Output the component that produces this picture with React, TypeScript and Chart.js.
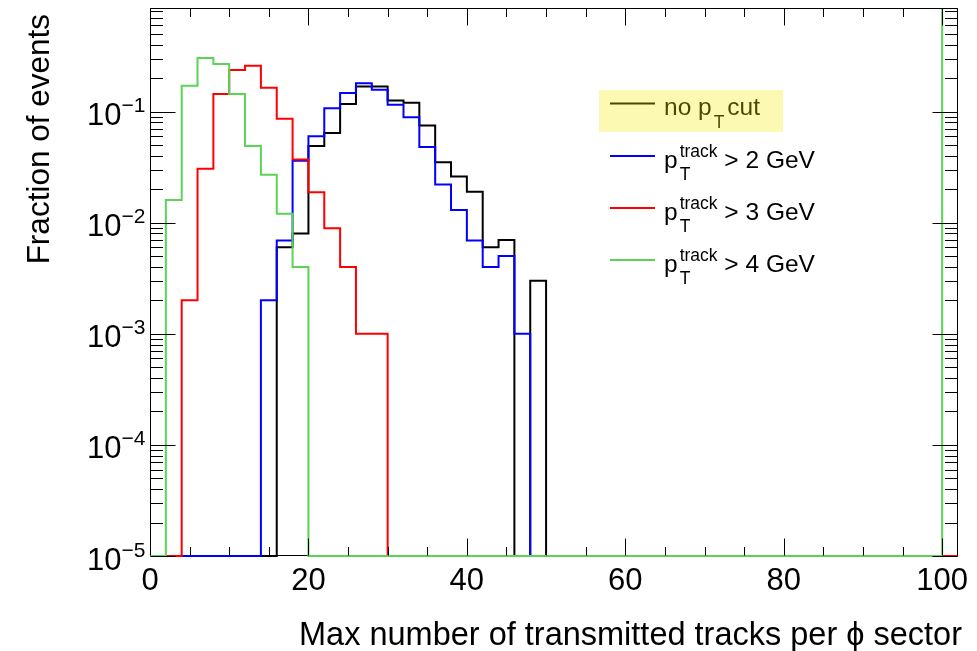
import React, { useEffect, useRef } from "react";
import { Chart, registerables } from "chart.js";

Chart.register(...registerables);

// ---- data -------------------------------------------------------------
// lower bin edges (bin width 2, last bin 100-102)
const binLowEdges = [
  0, 2, 4, 6, 8, 10, 12, 14, 16, 18,
  20, 22, 24, 26, 28, 30, 32, 34, 36, 38,
  40, 42, 44, 46, 48, 50, 52, 54, 56, 58,
  60, 62, 64, 66, 68, 70, 72, 74, 76, 78,
  80, 82, 84, 86, 88, 90, 92, 94, 96, 98,
  100,
];
const lastBinHighEdge = 102;

const noPtCut = [
  0, 0, 0, 0, 0, 0, 0, 0, 0.006, 0.008,
  0.049, 0.064, 0.117, 0.168, 0.168, 0.126, 0.12, 0.075, 0.035, 0.026,
  0.019, 0.006, 0.007, 0, 0.003, 0, 0, 0, 0, 0,
  0, 0, 0, 0, 0, 0, 0, 0, 0, 0,
  0, 0, 0, 0, 0, 0, 0, 0, 0, 0,
  0,
];
const pt2GeV = [
  0, 0, 0, 0, 0, 0, 0, 0.002, 0.0069, 0.036,
  0.06, 0.107, 0.147, 0.18, 0.157, 0.115, 0.089, 0.048, 0.022, 0.013,
  0.0069, 0.004, 0.005, 0.001, 0, 0, 0, 0, 0, 0,
  0, 0, 0, 0, 0, 0, 0, 0, 0, 0,
  0, 0, 0, 0, 0, 0, 0, 0, 0, 0,
  0,
];
const pt3GeV = [
  0, 0, 0.002, 0.0305, 0.144, 0.237, 0.259, 0.164, 0.086, 0.037,
  0.0188, 0.0089, 0.004, 0.001, 0.001, 0, 0, 0, 0, 0,
  0, 0, 0, 0, 0, 0, 0, 0, 0, 0,
  0, 0, 0, 0, 0, 0, 0, 0, 0, 0,
  0, 0, 0, 0, 0, 0, 0, 0, 0, 0,
  0,
];
const pt4GeV = [
  0, 0.016, 0.171, 0.304, 0.268, 0.144, 0.049, 0.027, 0.012, 0.004,
  0, 0, 0, 0, 0, 0, 0, 0, 0, 0,
  0, 0, 0, 0, 0, 0, 0, 0, 0, 0,
  0, 0, 0, 0, 0, 0, 0, 0, 0, 0,
  0, 0, 0, 0, 0, 0, 0, 0, 0, 0,
  1.0,
];

const seriesNames = ["no pT cut", "pT track > 2 GeV", "pT track > 3 GeV", "pT track > 4 GeV"];
const seriesColors = ["#000000", "#0000ff", "#ff0000", "#59d454"];

const xMin = 0;
const xMax = 102;
const yMin = 1e-5;
const yMax = 0.855;
const xMajorTicks = [0, 20, 40, 60, 80, 100];
const xMinorTicks = [5, 10, 15, 25, 30, 35, 45, 50, 55, 65, 70, 75, 85, 90, 95];
const yDecades = [-5, -4, -3, -2, -1];
const yTickLabels = ["10", "10", "10", "10", "10"];
const yTickExponents = ["\u22125", "\u22124", "\u22123", "\u22122", "\u22121"];

const xTitle = "Max number of transmitted tracks per \u03d5 sector";
const yTitle = "Fraction of events";

// legend rich text pieces
const legendPre = ["no p", "p", "p", "p"];
const legendSup = ["", "track", "track", "track"];
const legendSub = ["T", "T", "T", "T"];
const legendPost = ["cut", " > 2 GeV", " > 3 GeV", " > 4 GeV"];

const FONT = '"Liberation Sans", Arial, Helvetica, "DejaVu Sans", sans-serif';

function histPoints(values: number[]) {
  const pts = values.map((v, i) => ({ x: binLowEdges[i], y: v > 0 ? v : yMin }));
  const last = values[values.length - 1];
  pts.push({ x: lastBinHighEdge, y: last > 0 ? last : yMin });
  return pts;
}

function frameBox(a: any) {
  return {
    L: Math.round(a.left) + 0.5,
    R: Math.round(a.right) - 0.5,
    T: Math.round(a.top) + 0.5,
    B: Math.round(a.bottom) - 0.5,
  };
}

const rootAxesPlugin = {
  id: "rootAxes",
  beforeDatasetsDraw(chart: any) {
    const { ctx, chartArea: a } = chart;
    const { L, R, T, B } = frameBox(a);
    ctx.save();
    ctx.strokeStyle = "#000";
    ctx.lineWidth = 1;
    ctx.beginPath();
    ctx.rect(L, T, R - L, B - T);
    ctx.stroke();
    ctx.restore();
  },
  afterDatasetsDraw(chart: any) {
    const { ctx, chartArea: a, scales } = chart;
    const xs = scales.x;
    const ys = scales.y;
    const { L, R, T, B } = frameBox(a);
    ctx.save();
    ctx.strokeStyle = "#000";
    ctx.lineWidth = 1;

    // right and top frame edges redrawn over the lines
    ctx.beginPath();
    ctx.moveTo(L, T);
    ctx.lineTo(R, T);
    ctx.lineTo(R, B);
    ctx.stroke();

    // x ticks (bottom and top, inward)
    const xMajLen = 17;
    const xMinLen = 8.5;
    ctx.beginPath();
    const drawX = (v: number, len: number) => {
      const px = Math.round(xs.getPixelForValue(v)) + 0.5;
      ctx.moveTo(px, B);
      ctx.lineTo(px, B - len);
      ctx.moveTo(px, T);
      ctx.lineTo(px, T + len);
    };
    xMajorTicks.forEach((v) => drawX(v, xMajLen));
    xMinorTicks.forEach((v) => drawX(v, xMinLen));
    ctx.stroke();

    // y ticks (left and right, inward), log
    const yMajLen = 25;
    const yMinLen = 12.5;
    ctx.beginPath();
    yDecades.forEach((k) => {
      for (let m = 1; m <= 9; m++) {
        const v = m * Math.pow(10, k);
        if (v > yMax * 1.0000001 || v < yMin * 0.9999999) continue;
        const py = Math.round(ys.getPixelForValue(v)) + 0.5;
        const len = m === 1 ? yMajLen : yMinLen;
        ctx.moveTo(L, py);
        ctx.lineTo(L + len, py);
        ctx.moveTo(R, py);
        ctx.lineTo(R - len, py);
      }
    });
    for (let m = 2; m <= 9; m++) {
      const v = m * 0.1;
      if (v > yMax) break;
      const py = Math.round(ys.getPixelForValue(v)) + 0.5;
      ctx.moveTo(L, py);
      ctx.lineTo(L + yMinLen, py);
      ctx.moveTo(R, py);
      ctx.lineTo(R - yMinLen, py);
    }
    ctx.stroke();

    ctx.fillStyle = "#000";
    // x tick labels
    ctx.font = `31px ${FONT}`;
    ctx.textAlign = "center";
    ctx.textBaseline = "alphabetic";
    xMajorTicks.forEach((v) => {
      ctx.fillText(String(v), xs.getPixelForValue(v), 590);
    });

    // y tick labels: 10^{-k}
    yDecades.forEach((k, i) => {
      const py = ys.getPixelForValue(Math.pow(10, k));
      const supRight = 145.5;
      ctx.font = `21px ${FONT}`;
      ctx.textAlign = "right";
      const supW = ctx.measureText(yTickExponents[i]).width;
      ctx.fillText(yTickExponents[i], supRight, py + 0.5);
      ctx.font = `31px ${FONT}`;
      ctx.fillText(yTickLabels[i], supRight - supW, py + 13.5);
    });

    // axis titles
    ctx.font = `32.5px ${FONT}`;
    ctx.textAlign = "right";
    ctx.fillText(xTitle, 962, 645);

    ctx.save();
    ctx.font = `31.5px ${FONT}`;
    ctx.translate(49, 14);
    ctx.rotate(-Math.PI / 2);
    ctx.textAlign = "right";
    ctx.fillText(yTitle, 0, 0);
    ctx.restore();

    // legend
    const lineX0 = 610;
    const lineX1 = 655;
    const textX = 664;
    const baselines = [115, 167.5, 219.5, 271.5];
    const mainFont = `24.5px ${FONT}`;
    const smallFont = `17.5px ${FONT}`;
    seriesColors.forEach((col, i) => {
      const b = baselines[i];
      ctx.strokeStyle = col;
      ctx.lineWidth = 2;
      ctx.beginPath();
      ctx.moveTo(lineX0, b - 11.5);
      ctx.lineTo(lineX1, b - 11.5);
      ctx.stroke();

      ctx.fillStyle = "#000";
      ctx.textAlign = "left";
      ctx.font = mainFont;
      ctx.fillText(legendPre[i], textX, b);
      let x = textX + ctx.measureText(legendPre[i]).width + 2;
      ctx.font = smallFont;
      let w = 0;
      if (legendSup[i]) {
        ctx.fillText(legendSup[i], x, b - 10.5);
        w = Math.max(w, ctx.measureText(legendSup[i]).width);
      }
      if (legendSub[i]) {
        ctx.fillText(legendSub[i], x, b + 12.7);
        w = Math.max(w, ctx.measureText(legendSub[i]).width);
      }
      x += w + (legendSup[i] ? 0 : 3);
      ctx.font = mainFont;
      ctx.fillText(legendPost[i], x, b);
    });
    // highlight over the first entry
    ctx.fillStyle = "rgba(245, 235, 0, 0.3)";
    ctx.fillRect(599, 90, 184, 42);

    ctx.restore();
  },
};

export default function App() {
  const canvasRef = useRef<HTMLCanvasElement | null>(null);

  useEffect(() => {
    if (!canvasRef.current) return;
    const all = [noPtCut, pt2GeV, pt3GeV, pt4GeV];
    const drawOrder = [3, 2, 1, 0]; // green drawn on top
    const chart = new Chart(canvasRef.current, {
      type: "line",
      data: {
        datasets: all.map((vals, i) => ({
          label: seriesNames[i],
          data: histPoints(vals),
          borderColor: seriesColors[i],
          backgroundColor: seriesColors[i],
          borderWidth: 2,
          pointRadius: 0,
          fill: false,
          stepped: true,
          tension: 0,
          order: drawOrder[i],
          clip: { left: 2, right: 0, top: 0, bottom: 2 } as any,
        })),
      },
      options: {
        animation: false,
        responsive: false,
        devicePixelRatio: 1,
        parsing: false as any,
        normalized: true,
        layout: { padding: { left: 150, right: 19, top: 8, bottom: 95 } },
        scales: {
          x: { type: "linear", min: xMin, max: xMax, display: false },
          y: { type: "logarithmic", min: yMin, max: yMax, display: false },
        },
        plugins: {
          legend: { display: false },
          tooltip: { enabled: false },
        },
        events: [],
      },
      plugins: [rootAxesPlugin],
    });
    return () => chart.destroy();
  }, []);

  return (
    <div style={{ position: "absolute", left: 0, top: 0, width: 977, height: 651, background: "#fff" }}>
      <canvas ref={canvasRef} width={977} height={651} style={{ display: "block" }} />
    </div>
  );
}
